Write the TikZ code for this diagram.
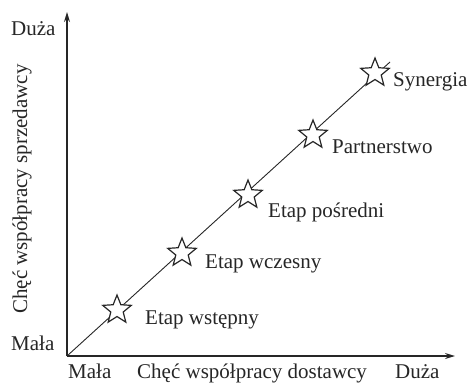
\documentclass[tikz,border=0pt]{standalone}
\usepackage{fontspec}
\setmainfont{Liberation Serif}
\usetikzlibrary{shapes.geometric,arrows.meta}
\begin{document}
\begin{tikzpicture}[x=1pt,y=1pt,
  lbl/.style={font=\fontsize{21}{24}\selectfont, text=black!85, inner sep=0pt, anchor=base west},
  stagestar/.style={star, star points=5, star point ratio=2.3, minimum size=30pt, inner sep=0pt, draw=black!85, line width=1.2pt, fill=white},
  axis/.style={draw=black!85, line width=1.3pt, -{Stealth[length=10pt,width=6pt]}}
]
\useasboundingbox (0,0) rectangle (470,384);
\coordinate (O) at (67,28);
\coordinate (Ytop) at (67,372);
\coordinate (Xend) at (455,28);
\coordinate (D) at (390,322);
\draw[line width=0.9pt, draw=black!85] (O) -- (D);
\draw[axis] (O) -- (Ytop);
\draw[axis] (O) -- (Xend);
\node[stagestar] (s1) at (117,74) {};
\node[stagestar] (s2) at (182,131) {};
\node[stagestar] (s3) at (248,189) {};
\node[stagestar] (s4) at (313,249) {};
\node[stagestar] (s5) at (375,311) {};
\node[lbl] (l1) at (145,60) {Etap wstępny};
\node[lbl] (l2) at (205,116) {Etap wczesny};
\node[lbl] (l3) at (268,167) {Etap pośredni};
\node[lbl] (l4) at (332,231) {Partnerstwo};
\node[lbl] (l5) at (393,298) {Synergia};
\node[lbl] (ytopl) at (11,349) {Duża};
\node[lbl] (ybotl) at (11,34) {Mała};
\node[lbl] (xl) at (68,5.5) {Mała};
\node[lbl] (xt) at (137,5.5) {Chęć współpracy dostawcy};
\node[lbl] (xr) at (395,5.5) {Duża};
\node[lbl, anchor=base, rotate=90] (yt) at (27,195) {Chęć współpracy sprzedawcy};
\end{tikzpicture}
\end{document}
